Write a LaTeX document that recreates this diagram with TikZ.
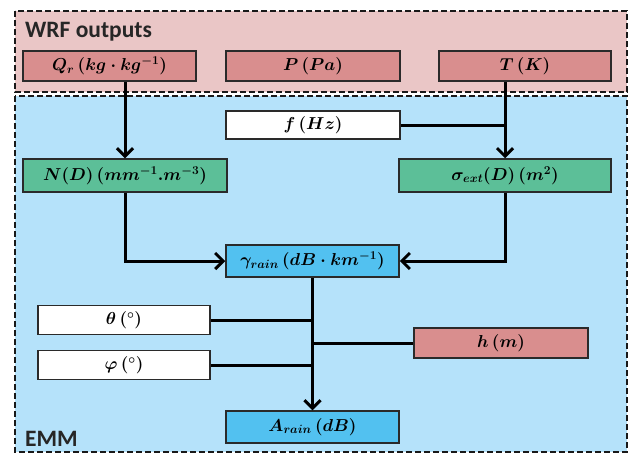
\documentclass[tikz,border=0pt]{standalone}
\usepackage{fontspec}
\setsansfont{Carlito}
\usetikzlibrary{arrows.meta}
\definecolor{wrfbg}{HTML}{EAC6C6}
\definecolor{pinkbox}{HTML}{D98E8E}
\definecolor{emmbg}{HTML}{B5E2FA}
\definecolor{greenbox}{HTML}{5CBF98}
\definecolor{bluebox}{HTML}{52C1F0}
\definecolor{edge}{HTML}{2A2A2A}
\begin{document}
\begin{tikzpicture}[x=1pt,y=-1pt,
  group/.style={draw=black!90, line width=2.2pt, dash pattern=on 6pt off 3pt},
  box/.style={draw=edge, line width=1.5pt, inner sep=0pt, font=\fontsize{18}{20}\selectfont\boldmath},
  wbox/.style={box, fill=white},
  pbox/.style={box, fill=pinkbox},
  gbox/.style={box, fill=greenbox},
  bbox/.style={box, fill=bluebox},
  conn/.style={line width=3pt, draw=black},
  arr/.style={conn, -{Straight Barb[length=8pt,width=16pt]}},
  lab/.style={font=\fontsize{23.5}{25}\selectfont\sffamily\bfseries, anchor=base west, inner sep=0pt, text=black!85}
]
\useasboundingbox (0,0) rectangle (635,455);
% group backgrounds
\draw[group, fill=wrfbg] (15,11) rectangle (627,92);
\draw[group, fill=emmbg] (15,96) rectangle (627,452);
\node[lab] (wrflab) at (25,37) {WRF outputs};
\node[lab] (emmlab) at (25,446) {EMM};
% nodes
\node[pbox, minimum width=173pt, minimum height=30pt] (Qr) at (109.5,66) {$Q_r\,(kg\cdot kg^{-1})$};
\node[pbox, minimum width=174pt, minimum height=30pt] (P) at (313,66) {$P\,(Pa)$};
\node[pbox, minimum width=172pt, minimum height=30pt] (T) at (525,66) {$T\,(K)$};
\node[wbox, minimum width=174pt, minimum height=28pt] (f) at (313,125) {$f\,(Hz)$};
\node[gbox, minimum width=204pt, minimum height=33pt] (N) at (125,175.5) {$N(D)\,(mm^{-1}.m^{-3})$};
\node[gbox, minimum width=212pt, minimum height=33pt] (sig) at (505,175.5) {$\sigma_{ext}(D)\,(m^{2})$};
\node[bbox, minimum width=173pt, minimum height=32pt] (gam) at (312.5,261) {$\gamma_{rain}\,(dB\cdot km^{-1})$};
\node[wbox, minimum width=172pt, minimum height=29pt] (th) at (124,320) {$\theta\,(^{\circ})$};
\node[wbox, minimum width=172pt, minimum height=29pt] (ph) at (124,365) {$\varphi\,(^{\circ})$};
\node[pbox, minimum width=174pt, minimum height=30pt] (h) at (501,343) {$h\,(m)$};
\node[bbox, minimum width=173pt, minimum height=32pt] (A) at (312.5,427) {$A_{rain}\,(dB)$};
% connectors
\draw[arr] (Qr.south -| N.north) -- (N.north);
\draw[arr] (T.south -| sig.north) -- (sig.north);
\draw[conn] (f.east) -- (f.east -| sig.north);
\draw[arr] (N.south) |- (gam.west);
\draw[arr] (sig.south) |- (gam.east);
\draw[arr] (gam.south) -- (A.north);
\draw[conn] (th.east) -- (th.east -| gam.south);
\draw[conn] (ph.east) -- (ph.east -| gam.south);
\draw[conn] (h.west) -- (h.west -| gam.south);
\end{tikzpicture}
\end{document}
